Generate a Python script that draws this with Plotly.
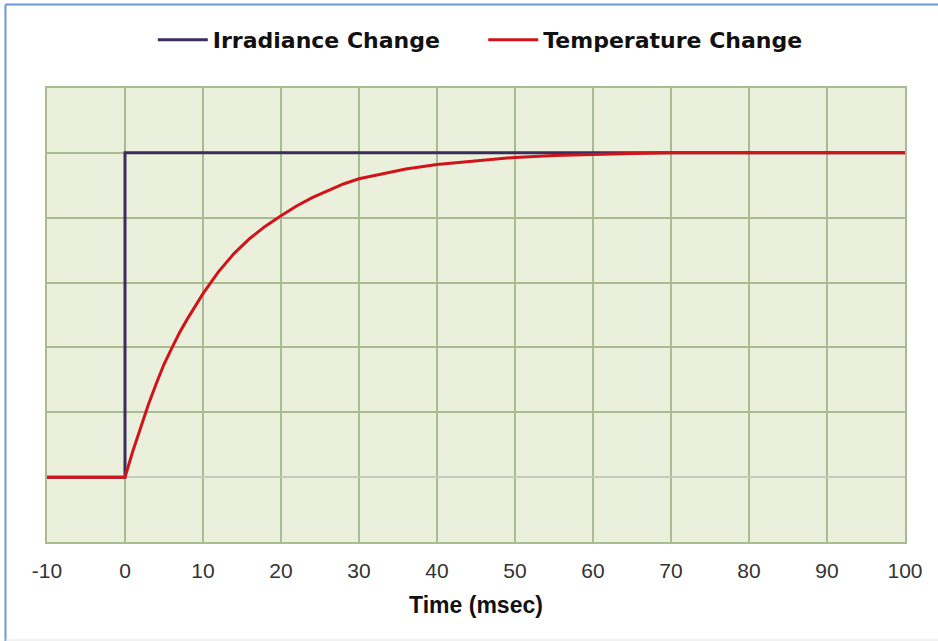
import plotly.graph_objects as go

# time axis (msec)
irr_time = [-10, 0, 0, 100]
irr_value = [0, 0, 5, 5]

temp_time = [-10, 0, 1, 2, 3, 4, 5, 6, 7, 8, 9, 10, 12, 14, 16, 18, 20, 22, 24,
             26, 28, 30, 33, 36, 40, 45, 50, 55, 60, 65, 70, 80, 90, 100]
temp_value = [0, 0, 0.40, 0.77, 1.12, 1.44, 1.74, 1.99, 2.23, 2.44, 2.64, 2.83,
              3.17, 3.45, 3.68, 3.87, 4.03, 4.18, 4.31, 4.42, 4.52, 4.60, 4.68,
              4.75, 4.82, 4.88, 4.93, 4.96, 4.98, 4.99, 5.0, 5.0, 5.0, 5.0]

x_ticks = [-10, 0, 10, 20, 30, 40, 50, 60, 70, 80, 90, 100]

grid = '#abbb91'

fig = go.Figure()

# trailing spaces keep the gap between the two legend entries
fig.add_trace(go.Scatter(
    x=irr_time, y=irr_value,
    name='Irradiance Change' + '\u00a0' * 5,
    mode='lines',
    line=dict(color='#3a2d5c', width=3)
))

fig.add_trace(go.Scatter(
    x=temp_time, y=temp_value,
    name='Temperature Change',
    mode='lines',
    line=dict(color='#d0141a', width=3)
))

fig.update_layout(
    width=938, height=641,
    margin=dict(l=47, r=33, t=88, b=99),
    paper_bgcolor='white',
    plot_bgcolor='#ebf0dd',
    showlegend=True,
    legend=dict(
        orientation='h',
        x=0.505, xanchor='center',
        y=1.106, yanchor='middle',
        font=dict(family='DejaVu Sans', size=22, color='#111111', weight='bold'),
        itemwidth=50,
        traceorder='normal'
    ),
    xaxis=dict(
        range=[-10, 100],
        tickvals=x_ticks,
        ticktext=[str(v) for v in x_ticks],
        showgrid=True, gridcolor=grid, gridwidth=2,
        zeroline=False,
        showline=True, linecolor=grid, linewidth=2, mirror=True,
        ticks='outside', ticklen=9, tickcolor='rgba(0,0,0,0)',
        tickfont=dict(family='Liberation Sans', size=21, color='#333333'),
        title=dict(text='<b>Time (msec)</b>', standoff=16,
                   font=dict(family='Liberation Sans', size=23, color='#111111'))
    ),
    yaxis=dict(
        range=[-1, 6],
        dtick=1,
        showticklabels=False,
        showgrid=True, gridcolor=grid, gridwidth=2,
        zeroline=True, zerolinecolor='#c6cbbd', zerolinewidth=2,
        showline=True, linecolor=grid, linewidth=2, mirror=True
    ),
    shapes=[
        dict(type='line', xref='paper', yref='paper',
             x0=-0.0484, x1=1.05, y0=1.1839, y1=1.1839,
             line=dict(color='#6a98d6', width=2)),
        dict(type='line', xref='paper', yref='paper',
             x0=-0.0484, x1=-0.0484, y0=-0.25, y1=1.1839,
             line=dict(color='#6a98d6', width=2)),
        dict(type='line', xref='paper', yref='paper',
             x0=-0.0484, x1=1.05, y0=-0.2159, y1=-0.2159,
             line=dict(color='#e4e4e4', width=1)),
    ]
)

fig.write_html('out.html', config={'displayModeBar': False},
               post_script="document.body.style.margin='0';")
